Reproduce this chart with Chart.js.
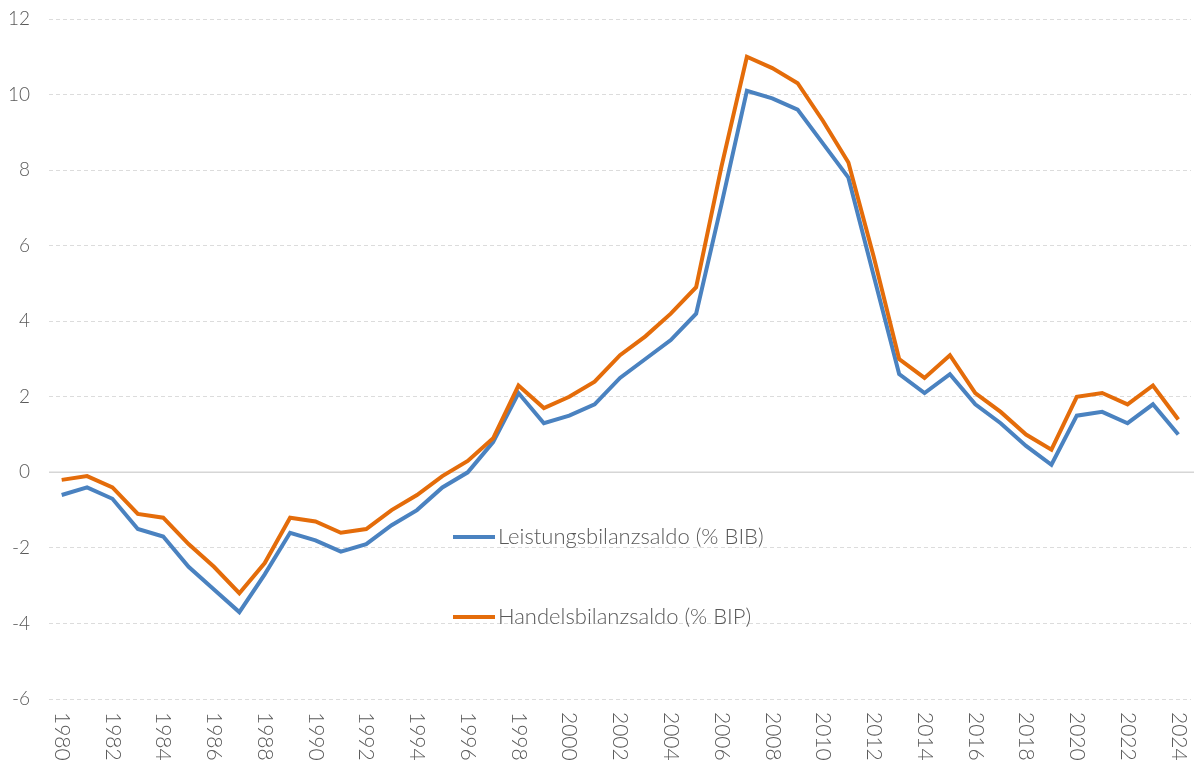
<!DOCTYPE html>
<html>
<head>
<meta charset="utf-8">
<script src="https://cdn.jsdelivr.net/npm/chart.js@4/dist/chart.umd.min.js"></script>
<style>
  html, body { margin: 0; padding: 0; background: #fff; overflow: hidden; }
  #wrap { width: 1198px; height: 762px; }
</style>
</head>
<body>
<div id="wrap"><canvas id="myChart" width="1198" height="762"></canvas></div>
<script>
var years = [];
for (var y = 1980; y <= 2024; y++) years.push(String(y));

// Leistungsbilanzsaldo (% BIB)
var leistung = [
  -0.6, -0.4, -0.7, -1.5, -1.7, -2.5, -3.1, -3.7, -2.7, -1.6,
  -1.8, -2.1, -1.9, -1.4, -1.0, -0.4, 0.0, 0.8, 2.1, 1.3,
  1.5, 1.8, 2.5, 3.0, 3.5, 4.2, 7.1, 10.1, 9.9, 9.6,
  8.7, 7.8, 5.2, 2.6, 2.1, 2.6, 1.8, 1.3, 0.7, 0.2,
  1.5, 1.6, 1.3, 1.8, 1.0
];
// Handelsbilanzsaldo (% BIP)
var handel = [
  -0.2, -0.1, -0.4, -1.1, -1.2, -1.9, -2.5, -3.2, -2.4, -1.2,
  -1.3, -1.6, -1.5, -1.0, -0.6, -0.1, 0.3, 0.9, 2.3, 1.7,
  2.0, 2.4, 3.1, 3.6, 4.2, 4.9, 8.1, 11.0, 10.7, 10.3,
  9.3, 8.2, 5.7, 3.0, 2.5, 3.1, 2.1, 1.6, 1.0, 0.6,
  2.0, 2.1, 1.8, 2.3, 1.4
];
var yTicks = [-6, -4, -2, 0, 2, 4, 6, 8, 10, 12];

var blue = "#4a82c0";
var orange = "#e46c0a";
var textGray = "#595959";
var fontFam = "Lato, 'Open Sans', sans-serif";

// tick labels (y, and x rotated clockwise), zero line, inner legend
var extras = {
  id: "extras",
  beforeDatasetsDraw: function (chart) {
    var ctx = chart.ctx, a = chart.chartArea, ys = chart.scales.y;
    var y0 = ys.getPixelForValue(0);
    ctx.save();
    ctx.strokeStyle = "#d6d6d6";
    ctx.lineWidth = 1.5;
    ctx.beginPath();
    ctx.moveTo(a.left, y0);
    ctx.lineTo(chart.width - 4, y0);
    ctx.stroke();
    ctx.restore();
  },
  afterDraw: function (chart) {
    var ctx = chart.ctx, a = chart.chartArea, xs = chart.scales.x, ys = chart.scales.y;
    ctx.save();
    ctx.fillStyle = textGray;
    ctx.textBaseline = "middle";

    ctx.font = "300 19px " + fontFam;
    ctx.textAlign = "right";
    yTicks.forEach(function (v) {
      ctx.fillText(String(v), a.left - 19, ys.getPixelForValue(v));
    });

    ctx.font = "300 21px " + fontFam;
    ctx.textAlign = "left";
    years.forEach(function (yr, i) {
      if (i % 2) return;
      ctx.save();
      ctx.translate(xs.getPixelForValue(i), a.bottom + 13);
      ctx.rotate(Math.PI / 2);
      ctx.fillText(yr, 0, 0);
      ctx.restore();
    });

    var items = [
      { label: "Leistungsbilanzsaldo (% BIB)", color: blue, y: a.top + 518 },
      { label: "Handelsbilanzsaldo (% BIP)", color: orange, y: a.top + 598 }
    ];
    var lx = a.left + 404;
    ctx.font = "300 22px " + fontFam;
    items.forEach(function (it) {
      ctx.strokeStyle = it.color;
      ctx.lineWidth = 4;
      ctx.beginPath();
      ctx.moveTo(lx, it.y);
      ctx.lineTo(lx + 42, it.y);
      ctx.stroke();
      ctx.fillStyle = textGray;
      ctx.fillText(it.label, lx + 45, it.y);
    });
    ctx.restore();
  }
};

new Chart("myChart", {
  type: "line",
  data: {
    labels: years,
    datasets: [{
      label: "Leistungsbilanzsaldo (% BIB)",
      data: leistung,
      borderColor: blue,
      backgroundColor: blue,
      borderWidth: 4,
      pointRadius: 0,
      tension: 0,
      order: 2
    }, {
      label: "Handelsbilanzsaldo (% BIP)",
      data: handel,
      borderColor: orange,
      backgroundColor: orange,
      borderWidth: 4,
      pointRadius: 0,
      tension: 0,
      order: 1
    }]
  },
  options: {
    responsive: false,
    animation: false,
    layout: { padding: { top: 19, bottom: 63, right: 7, left: 0 } },
    plugins: {
      legend: { display: false },
      tooltip: { enabled: false }
    },
    scales: {
      x: {
        display: false,
        offset: true
      },
      y: {
        min: -6,
        max: 12,
        afterBuildTicks: function (scale) {
          scale.ticks = yTicks.map(function (v) { return { value: v }; });
        },
        afterFit: function (scale) { scale.width = 49; },
        border: { display: false, dash: [4, 3] },
        grid: {
          drawTicks: false,
          lineWidth: 1,
          color: function (c) {
            return c.tick && c.tick.value === 0 ? "rgba(0,0,0,0)" : "#dcdcdc";
          }
        },
        ticks: { display: false }
      }
    }
  },
  plugins: [extras]
});
</script>
</body>
</html>
